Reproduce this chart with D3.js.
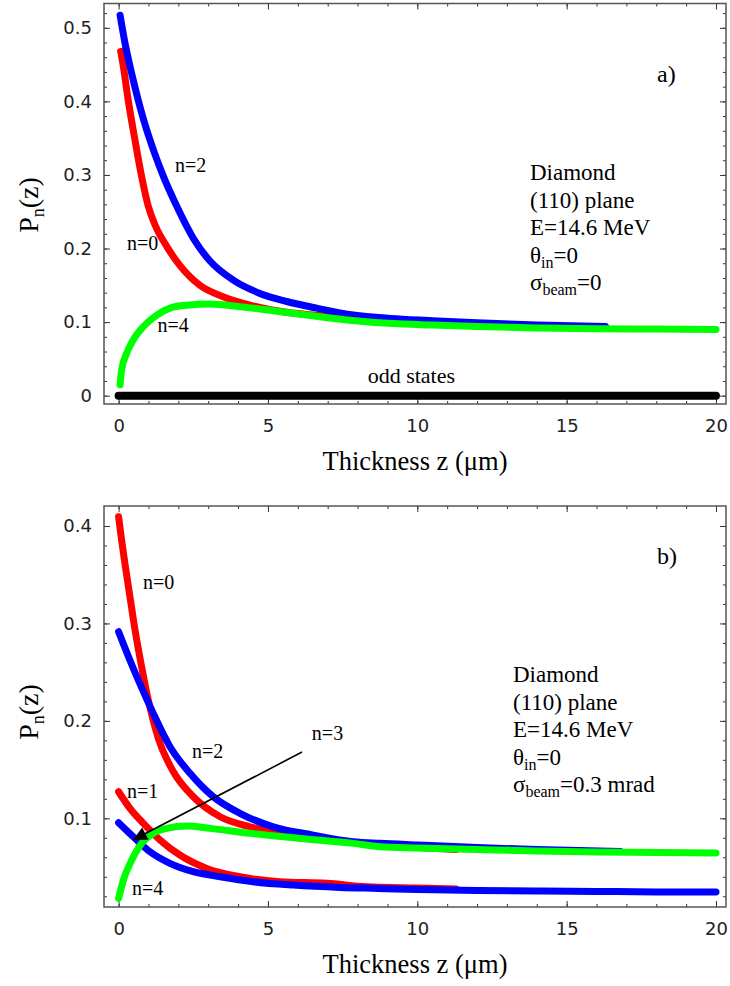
<!DOCTYPE html>
<html>
<head>
<meta charset="utf-8">
<script src="https://cdnjs.cloudflare.com/ajax/libs/d3/7.8.5/d3.min.js"></script>
<style>
  body { margin: 0; background: #fff; }
</style>
</head>
<body>
<div id="chart"></div>
<script>
// ---- panel a) sigma_beam = 0 ----
var aZn0 = [0.07, 0.16, 0.32, 0.55, 0.77, 0.99, 1.22, 1.61, 2.05, 2.72, 3.5, 4.4, 5.5, 6.5, 8, 10, 11.3];
var aPn0 = [0.468, 0.447, 0.402, 0.347, 0.298, 0.258, 0.232, 0.203, 0.177, 0.150, 0.1345, 0.123, 0.114, 0.1096, 0.104, 0.100, 0.098];
var aZn2 = [0.05, 0.21, 0.46, 0.83, 1.2, 1.5, 1.94, 2.5, 3.06, 3.84, 4.73, 5.63, 6.63, 7.86, 9.1, 10.5, 12, 14, 16.3];
var aPn2 = [0.517, 0.480, 0.434, 0.376, 0.330, 0.298, 0.258, 0.214, 0.183, 0.157, 0.139, 0.128, 0.119, 0.1096, 0.105, 0.102, 0.099, 0.096, 0.094];
var aZn4 = [0.05, 0.1, 0.27, 0.49, 0.83, 1.28, 1.72, 2.28, 3.06, 4.06, 5.18, 6.3, 7.64, 9.2, 10.5, 12, 14, 16, 18, 20];
var aPn4 = [0.015, 0.035, 0.0576, 0.0757, 0.094, 0.1096, 0.119, 0.123, 0.1246, 0.121, 0.1155, 0.1096, 0.103, 0.098, 0.096, 0.094, 0.092, 0.091, 0.0905, 0.09];
var aZodd = [0, 20];
var aPodd = [0, 0];

// ---- panel b) sigma_beam = 0.3 mrad ----
var bZn0 = [0, 0.1, 0.21, 0.38, 0.55, 0.77, 0.88, 1.05, 1.33, 1.83, 2.5, 3.4, 4.4, 5.63, 7.19, 8.64, 10, 11.3];
var bPn0 = [0.4095, 0.3856, 0.3617, 0.3274, 0.2932, 0.2556, 0.238, 0.214, 0.182, 0.148, 0.1221, 0.1016, 0.0913, 0.0846, 0.0777, 0.0726, 0.070, 0.068];
var bZn1 = [0, 0.38, 0.83, 1.39, 2.05, 2.95, 4.06, 5.4, 6.97, 8.3, 10, 11.3];
var bPn1 = [0.1273, 0.1102, 0.0948, 0.0777, 0.0623, 0.0486, 0.040, 0.0349, 0.0333, 0.0298, 0.0285, 0.0275];
var bZn2 = [0, 0.21, 0.49, 0.8, 1.16, 1.72, 2.39, 3.17, 4.06, 5.18, 6.52, 7.86, 8.75, 10, 12, 14, 16.8];
var bPn2 = [0.2915, 0.275, 0.254, 0.232, 0.2077, 0.1735, 0.1462, 0.1221, 0.1051, 0.0913, 0.0828, 0.076, 0.0743, 0.0726, 0.070, 0.068, 0.066];
var bZn3 = [0, 0.49, 1.05, 1.72, 2.5, 3.4, 4.5, 5.85, 7.41, 8.64, 10, 12, 14, 16, 18, 20];
var bPn3 = [0.0955, 0.0811, 0.0657, 0.0538, 0.0452, 0.040, 0.0349, 0.0315, 0.0291, 0.0281, 0.027, 0.026, 0.0255, 0.025, 0.0245, 0.0244];
var bZn4 = [0, 0.16, 0.44, 0.77, 1.16, 1.61, 2.28, 3.06, 4.4, 6.07, 7.86, 8.75, 10, 12, 14, 16, 18, 20];
var bPn4 = [0.0179, 0.0366, 0.0572, 0.0743, 0.0846, 0.0897, 0.0921, 0.0897, 0.0846, 0.0794, 0.0743, 0.0708, 0.0695, 0.068, 0.0665, 0.0655, 0.065, 0.0644];

// ticks
var xTicks = [0, 5, 10, 15, 20];
var aYTicks = [0, 0.1, 0.2, 0.3, 0.4, 0.5];
var bYTicks = [0.1, 0.2, 0.3, 0.4];

var width = 730, height = 986;
var serif = "'Liberation Serif', 'DejaVu Serif', serif";
var sans = "'DejaVu Sans', sans-serif";

var svg = d3.select('#chart')
    .append('svg')
    .attr('width', width)
    .attr('height', height);

// arrow head for the n=3 pointer
svg.append('defs').append('marker')
    .attr('id', 'head')
    .attr('viewBox', '0 0 10 10')
    .attr('refX', 10).attr('refY', 5)
    .attr('markerWidth', 17).attr('markerHeight', 14)
    .attr('markerUnits', 'userSpaceOnUse')
    .attr('orient', 'auto')
    .append('path')
    .attr('d', 'M0,0 L10,5 L0,10 Z')
    .attr('fill', '#000');

function zip(zs, ps) {
  return zs.map(function(z, i) { return {z: z, p: ps[i]}; });
}

function plotPanel(cfg) {
  var x = d3.scaleLinear().domain([-0.489, 20.335]).range([104, 726]);
  var y = d3.scaleLinear().domain(cfg.yDomain).range([cfg.bottom, cfg.top]);

  var g = svg.append('g');

  var fmt = function(d) { return d === 0 ? '0' : d3.format('.1f')(d); };

  // major + minor ticks on all four sides, pointing inward
  var xMinor = d3.range(0, 20.01, 1);
  var yMinor = d3.range(0, cfg.yDomain[1] - 0.005, 0.02).filter(function(v) { return v > cfg.yDomain[0]; });

  function addAxis(axis, tr) {
    var a = g.append('g').attr('transform', tr).call(axis);
    a.select('.domain').remove();
    a.selectAll('.tick line').attr('stroke', '#333').attr('stroke-width', 1);
    a.selectAll('.tick text')
        .style('font-family', sans)
        .style('font-size', '18px')
        .style('fill', '#222');
    return a;
  }

  addAxis(d3.axisBottom(x).tickValues(xMinor).tickSize(-3).tickFormat(''), 'translate(0,' + cfg.bottom + ')');
  addAxis(d3.axisBottom(x).tickValues(xTicks).tickSize(-6).tickPadding(15).tickFormat(d3.format('d')), 'translate(0,' + cfg.bottom + ')');
  addAxis(d3.axisTop(x).tickValues(xMinor).tickSize(-3).tickFormat(''), 'translate(0,' + cfg.top + ')');
  addAxis(d3.axisTop(x).tickValues(xTicks).tickSize(-6).tickFormat(''), 'translate(0,' + cfg.top + ')');

  addAxis(d3.axisLeft(y).tickValues(yMinor).tickSize(-3).tickFormat(''), 'translate(104,0)');
  addAxis(d3.axisLeft(y).tickValues(cfg.yTicks).tickSize(-6).tickPadding(12).tickFormat(fmt), 'translate(104,0)');
  addAxis(d3.axisRight(y).tickValues(yMinor).tickSize(-3).tickFormat(''), 'translate(726,0)');
  addAxis(d3.axisRight(y).tickValues(cfg.yTicks).tickSize(-6).tickFormat(''), 'translate(726,0)');

  // frame
  g.append('rect')
      .attr('x', 104).attr('y', cfg.top)
      .attr('width', 726 - 104).attr('height', cfg.bottom - cfg.top)
      .attr('fill', 'none')
      .attr('stroke', '#555')
      .attr('stroke-width', 1.5);

  var line = d3.line()
      .curve(d3.curveMonotoneX)
      .x(function(d) { return x(d.z); })
      .y(function(d) { return y(d.p); });

  // curves
  cfg.series.forEach(function(s) {
    g.append('path')
        .datum(zip(s.z, s.p))
        .attr('fill', 'none')
        .attr('stroke', s.color)
        .attr('stroke-width', s.w || 7)
        .attr('stroke-linecap', 'round')
        .attr('stroke-linejoin', 'round')
        .attr('d', line);
  });

  // curve labels
  cfg.labels.forEach(function(l) {
    g.append('text')
        .attr('x', x(l.z))
        .attr('y', y(l.p))
        .style('font-family', serif)
        .style('font-size', (l.size || 20) + 'px')
        .style('text-anchor', l.anchor || 'start')
        .text(l.text);
  });

  if (cfg.arrow) {
    g.append('line')
        .attr('x1', x(cfg.arrow[0])).attr('y1', y(cfg.arrow[1]))
        .attr('x2', x(cfg.arrow[2])).attr('y2', y(cfg.arrow[3]))
        .attr('stroke', '#000')
        .attr('stroke-width', 1.6)
        .attr('marker-end', 'url(#head)');
  }

  // panel letter
  g.append('text')
      .attr('x', 657).attr('y', cfg.top + cfg.letterDy)
      .style('font-family', serif)
      .style('font-size', '24px')
      .text(cfg.letter);

  // parameter block
  var info = g.append('text')
      .attr('x', cfg.infoX).attr('y', cfg.infoY)
      .style('font-family', serif)
      .style('font-size', '23px');
  var lh = 27.5;
  info.append('tspan').attr('x', cfg.infoX).attr('dy', 0).text('Diamond');
  info.append('tspan').attr('x', cfg.infoX).attr('dy', lh).text('(110) plane');
  info.append('tspan').attr('x', cfg.infoX).attr('dy', lh).text('E=14.6 MeV');
  info.append('tspan').attr('x', cfg.infoX).attr('dy', lh).text('\u03b8');
  info.append('tspan').attr('dy', 5).style('font-size', '16px').text('in');
  info.append('tspan').attr('dy', -5).text('=0');
  info.append('tspan').attr('x', cfg.infoX).attr('dy', lh).text('\u03c3');
  info.append('tspan').attr('dy', 5).style('font-size', '16px').text('beam');
  info.append('tspan').attr('dy', -5).text(cfg.sigma);

  // axis titles
  g.append('text')
      .attr('x', 415).attr('y', cfg.bottom + 66)
      .style('font-family', serif)
      .style('font-size', '26.5px')
      .style('text-anchor', 'middle')
      .text('Thickness z (\u03bcm)');

  var yl = g.append('text')
      .attr('transform', 'translate(38,' + cfg.yTitle + ') rotate(-90)')
      .style('font-family', serif)
      .style('font-size', '28px')
      .style('text-anchor', 'middle');
  yl.append('tspan').text('P');
  yl.append('tspan').attr('dy', 6).style('font-size', '18px').text('n');
  yl.append('tspan').attr('dy', -6).text('(z)');
}

plotPanel({
  top: 3.5, bottom: 404, yDomain: [-0.0113, 0.533], yTicks: aYTicks,
  series: [
    {z: aZodd, p: aPodd, color: '#000', w: 8},
    {z: aZn0, p: aPn0, color: '#ff0000'},
    {z: aZn2, p: aPn2, color: '#0000ff'},
    {z: aZn4, p: aPn4, color: '#00ff00'}
  ],
  labels: [
    {text: 'n=2', z: 1.89, p: 0.304},
    {text: 'n=0', z: 0.28, p: 0.198},
    {text: 'n=4', z: 1.3, p: 0.086},
    {text: 'odd states', z: 9.8, p: 0.017, anchor: 'middle', size: 22}
  ],
  letter: 'a)', letterDy: 78,
  infoX: 530, infoY: 180, sigma: '=0',
  yTitle: 205
});

plotPanel({
  top: 506, bottom: 907, yDomain: [0.009, 0.4205], yTicks: bYTicks,
  series: [
    {z: bZn0, p: bPn0, color: '#ff0000'},
    {z: bZn1, p: bPn1, color: '#ff0000'},
    {z: bZn2, p: bPn2, color: '#0000ff'},
    {z: bZn3, p: bPn3, color: '#0000ff'},
    {z: bZn4, p: bPn4, color: '#00ff00'}
  ],
  labels: [
    {text: 'n=0', z: 0.82, p: 0.335},
    {text: 'n=2', z: 2.46, p: 0.162},
    {text: 'n=1', z: 0.28, p: 0.1205},
    {text: 'n=4', z: 0.45, p: 0.021},
    {text: 'n=3', z: 6.47, p: 0.180}
  ],
  arrow: [6.14, 0.168, 0.48, 0.0777],
  letter: 'b)', letterDy: 58,
  infoX: 513, infoY: 682, sigma: '=0.3 mrad',
  yTitle: 712
});
</script>
</body>
</html>
